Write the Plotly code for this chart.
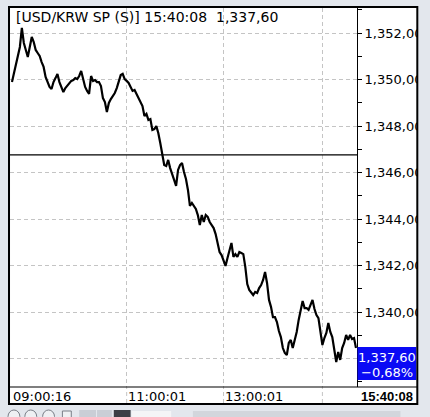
import plotly.graph_objects as go

# ---- data (one sample every ~2 px along the time axis) ----
prices = [
    1349.89, 1350.24, 1350.58, 1350.97, 1351.40, 1352.22, 1351.57, 1351.27, 1350.97, 1351.40,
    1351.83, 1351.61, 1351.27, 1351.14, 1351.01, 1350.75, 1350.54, 1350.11, 1349.89, 1349.68,
    1349.59, 1349.89, 1350.06, 1350.24, 1349.89, 1349.68, 1349.46, 1349.63, 1349.72, 1349.85,
    1349.94, 1349.98, 1350.06, 1350.02, 1350.15, 1350.37, 1349.98, 1349.68, 1349.51, 1349.38,
    1350.15, 1349.94, 1349.98, 1349.89, 1349.89, 1349.72, 1349.20, 1349.03, 1348.60, 1348.99,
    1349.16, 1349.29, 1349.42, 1349.63, 1349.94, 1350.19, 1350.24, 1350.02, 1349.94, 1349.85,
    1349.68, 1349.51, 1349.55, 1349.38, 1349.25, 1349.08, 1348.86, 1348.43, 1348.52, 1348.26,
    1348.30, 1347.83, 1347.87, 1348.00, 1347.70, 1347.27, 1346.80, 1346.32, 1346.28, 1346.54,
    1346.19, 1345.89, 1345.68, 1345.42, 1346.11, 1346.32, 1346.41, 1346.02, 1345.72, 1345.25,
    1344.56, 1344.69, 1344.56, 1344.43, 1344.17, 1343.74, 1344.17, 1343.87, 1344.17, 1344.09,
    1343.87, 1343.74, 1343.61, 1343.35, 1342.92, 1342.58, 1342.45, 1342.24, 1341.98, 1342.32,
    1342.67, 1342.97, 1342.37, 1342.49, 1342.37, 1342.58, 1342.54, 1342.49, 1341.94, 1341.20,
    1340.95, 1340.86, 1340.73, 1340.86, 1340.82, 1341.03, 1341.16, 1341.38, 1341.72, 1341.25,
    1340.52, 1340.22, 1339.78, 1339.78, 1339.57, 1339.18, 1338.92, 1338.45, 1338.24, 1338.15,
    1338.67, 1338.80, 1338.45, 1338.80, 1339.14, 1339.66, 1340.00, 1340.47, 1340.17, 1340.17,
    1340.09, 1340.30, 1340.52, 1340.13, 1339.87, 1339.74, 1339.23, 1338.58, 1338.88, 1339.10,
    1339.53, 1339.14, 1338.92, 1338.37, 1337.85, 1338.28, 1337.94, 1338.45, 1338.67, 1339.01,
    1338.80, 1339.01, 1338.84, 1338.88, 1338.45,
]
time_labels = ["09:00:16", "11:00:01", "13:00:01"]
time_label_idx = [0, 58, 107]
time_grid_idx = [58, 107, 157]
y_tick_vals = [1338, 1340, 1342, 1344, 1346, 1348, 1350, 1352]
y_tick_text = ["", "1,340,00", "1,342,00", "1,344,00", "1,346,00", "1,348,00", "1,350,00", "1,352,00"]
y_minor_vals = [1337, 1339, 1341, 1343, 1345, 1347, 1349, 1351, 1353]
prev_close = 1346.76
last_price = 1337.60
last_price_text = "1,337,60"
change_text = "\u22120,68%"
last_time = "15:40:08"
symbol_text = "[USD/KRW SP (S)]"

# ---- layout geometry (pixels) ----
W, H = 430, 417
L, R, T, B = 10, 69, 8, 30
PW, PH = W - L - R, H - T - B
BG = "#e3e7ed"
FONT = "DejaVu Sans"
GRID = "#c4c4c4"


def px(x):
    return (x - L) / PW


def py(y):
    return (H - B - y) / PH


fig = go.Figure()
fig.add_trace(go.Scatter(
    x=list(range(len(prices))), y=prices, mode="lines",
    line=dict(color="black", width=2.2), hoverinfo="skip",
))

shapes = [
    # white chart panel
    dict(type="rect", xref="paper", yref="paper", x0=px(9), x1=px(422), y0=py(404), y1=py(7),
         fillcolor="white", line=dict(width=0), layer="below"),
    # previous close line
    dict(type="line", xref="paper", yref="y", x0=0, x1=1, y0=prev_close, y1=prev_close,
         line=dict(color="black", width=1.2), layer="above"),
    # separator between plot and time strip
    dict(type="line", xref="paper", yref="paper", x0=px(9), x1=px(422), y0=py(387), y1=py(387),
         line=dict(color="black", width=1.2), layer="above"),
    # last price box
    dict(type="rect", xref="paper", yref="y", x0=px(361.5), x1=px(421), y0=last_price - 0.52,
         y1=last_price + 0.89, fillcolor="#0a0af5", line=dict(width=0), layer="above"),
]
# time gridlines continue through the time strip
for idx in time_grid_idx:
    shapes.append(dict(type="line", xref="x", yref="paper", x0=idx, x1=idx, y0=py(403), y1=py(387),
                       line=dict(color=GRID, width=1, dash="4px,3px"), layer="below"))
# toolbar strip under the chart
for cx in [14, 31, 49]:
    shapes.append(dict(type="circle", xref="paper", yref="paper", x0=px(cx - 6), x1=px(cx + 6),
                       y0=py(423), y1=py(410), line=dict(color="#7a7f88", width=1),
                       fillcolor="#eef0f3", layer="above"))
shapes += [
    dict(type="rect", xref="paper", yref="paper", x0=px(63), x1=px(72), y0=py(420), y1=py(411),
         line=dict(color="#7a7f88", width=1), fillcolor="#eef0f3", layer="above"),
    dict(type="rect", xref="paper", yref="paper", x0=px(80), x1=px(97), y0=py(420), y1=py(410),
         line=dict(width=0), fillcolor="#c9ced6", layer="above"),
    dict(type="rect", xref="paper", yref="paper", x0=px(98), x1=px(113), y0=py(420), y1=py(410),
         line=dict(width=0), fillcolor="#c9ced6", layer="above"),
    dict(type="rect", xref="paper", yref="paper", x0=px(115), x1=px(132), y0=py(420), y1=py(410),
         line=dict(width=0), fillcolor="#3c3f46", layer="above"),
    dict(type="rect", xref="paper", yref="paper", x0=px(133), x1=px(173), y0=py(420), y1=py(411),
         line=dict(width=0), fillcolor="#f4f5f7", layer="above"),
    dict(type="rect", xref="paper", yref="paper", x0=px(195), x1=px(405), y0=py(420), y1=py(411),
         line=dict(width=0), fillcolor="#d2d6dc", layer="above"),
    # clip tick labels at the right border
    dict(type="rect", xref="paper", yref="paper", x0=px(422), x1=px(440), y0=py(430), y1=py(-10),
         fillcolor=BG, line=dict(width=0), layer="above"),
    # outer frame
    dict(type="rect", xref="paper", yref="paper", x0=px(9), x1=px(422), y0=py(404), y1=py(7),
         fillcolor="rgba(0,0,0,0)", line=dict(color="black", width=2), layer="above"),
]

annotations = [
    dict(xref="paper", yref="paper", x=px(14), y=py(17), xanchor="left", yanchor="middle",
         text=f"{symbol_text} {last_time}\u00a0\u00a0{last_price_text}", showarrow=False,
         font=dict(family=FONT, size=14, color="black")),
    dict(xref="paper", yref="paper", x=px(391), y=py(396), xanchor="center", yanchor="middle",
         text=last_time, showarrow=False,
         font=dict(family="Liberation Sans", size=13, color="black", weight="bold")),
    dict(xref="paper", yref="paper", x=px(391), y=py(357), xanchor="center", yanchor="middle",
         text=last_price_text, showarrow=False, font=dict(family=FONT, size=13, color="white")),
    dict(xref="paper", yref="paper", x=px(391), y=py(372), xanchor="center", yanchor="middle",
         text=change_text, showarrow=False, font=dict(family=FONT, size=13, color="white")),
]
for lbl, idx in zip(time_labels, time_label_idx):
    annotations.append(dict(xref="x", yref="paper", x=idx, y=py(396), xanchor="left",
                            yanchor="middle", text=lbl, showarrow=False, xshift=-1,
                            font=dict(family=FONT, size=13, color="black")))

y_bottom = 1352 - (H - B - 33) / 23.25
y_top = 1352 + (33 - T) / 23.25

fig.update_layout(
    width=W, height=H, margin=dict(l=L, r=R, t=T, b=B, pad=0),
    paper_bgcolor=BG, plot_bgcolor="white", showlegend=False,
    shapes=shapes, annotations=annotations,
    xaxis=dict(range=[-1, -1 + PW / 2], tickmode="array", tickvals=time_grid_idx,
               showticklabels=False, ticks="", showgrid=True, gridcolor=GRID,
               griddash="4px,3px", gridwidth=1, zeroline=False, showline=False, fixedrange=True),
    yaxis=dict(range=[y_bottom, y_top], side="right",
               tickmode="array", tickvals=y_tick_vals, ticktext=y_tick_text,
               ticks="outside", ticklen=4, tickcolor="black", tickwidth=1,
               tickfont=dict(family=FONT, size=13, color="black"),
               showgrid=True, gridcolor=GRID, griddash="4px,3px", gridwidth=1,
               zeroline=False, showline=True, linecolor="black", linewidth=1,
               minor=dict(tickmode="array", tickvals=y_minor_vals, ticks="outside",
                          ticklen=4, tickcolor="black", showgrid=False),
               fixedrange=True),
)

fig.write_html(
    "out.html",
    config={"displayModeBar": False},
    post_script=f"document.body.style.margin='0';document.body.style.background='{BG}';",
)
